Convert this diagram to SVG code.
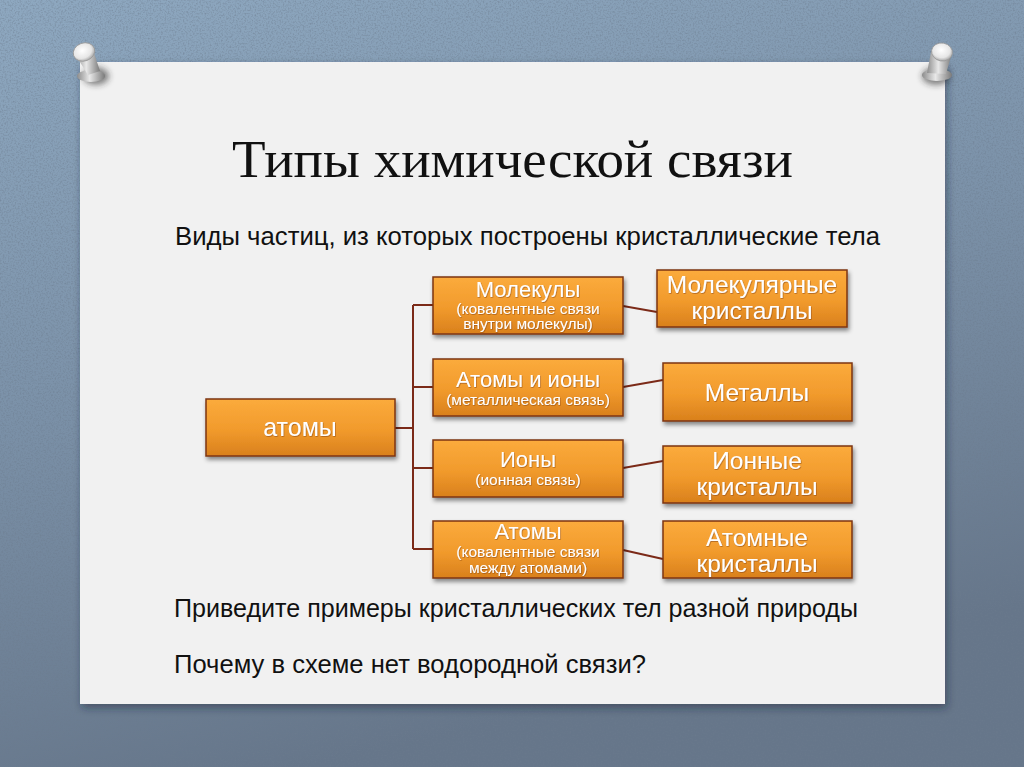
<svg xmlns="http://www.w3.org/2000/svg" width="1024" height="767" viewBox="0 0 1024 767">
  <defs>
    <linearGradient id="bg" x1="0" y1="0" x2="0.3" y2="1">
      <stop offset="0" stop-color="#8ea8c0"/>
      <stop offset="0.5" stop-color="#7b91a8"/>
      <stop offset="1" stop-color="#66768a"/>
    </linearGradient>
    <filter id="grain" x="0" y="0" width="100%" height="100%">
      <feTurbulence type="fractalNoise" baseFrequency="0.6" numOctaves="2" seed="3" result="n"/>
      <feColorMatrix in="n" type="matrix" values="0 0 0 0 0.15  0 0 0 0 0.2  0 0 0 0 0.27  0 0 0 -2.4 1.35" result="d"/>
      <feComposite in="d" in2="SourceGraphic" operator="in"/>
    </filter>
    <linearGradient id="box" x1="0" y1="0" x2="0" y2="1">
      <stop offset="0" stop-color="#fbab3c"/>
      <stop offset="0.55" stop-color="#f19a2c"/>
      <stop offset="1" stop-color="#d9801c"/>
    </linearGradient>
    <filter id="sh" x="-10%" y="-20%" width="125%" height="150%">
      <feDropShadow dx="1.5" dy="3" stdDeviation="2" flood-color="#000" flood-opacity="0.45"/>
    </filter>
    <filter id="papersh" x="-5%" y="-5%" width="110%" height="112%">
      <feDropShadow dx="2" dy="4" stdDeviation="4" flood-color="#1c2630" flood-opacity="0.45"/>
    </filter>
    <filter id="pinsh" x="-100%" y="-100%" width="300%" height="300%">
      <feGaussianBlur stdDeviation="3"/>
    </filter>
    <filter id="tsh" x="-5%" y="-20%" width="110%" height="140%">
      <feDropShadow dx="0.6" dy="0.8" stdDeviation="0.5" flood-color="#7a3a08" flood-opacity="0.6"/>
    </filter>
    <linearGradient id="pinbody" x1="0" y1="0" x2="1" y2="0">
      <stop offset="0" stop-color="#8c8c8c"/>
      <stop offset="0.45" stop-color="#e8e8e8"/>
      <stop offset="1" stop-color="#7a7a7a"/>
    </linearGradient>
    <radialGradient id="pinhead" cx="0.45" cy="0.4" r="0.6">
      <stop offset="0" stop-color="#ffffff"/>
      <stop offset="0.7" stop-color="#e6e6e6"/>
      <stop offset="1" stop-color="#a9a9a9"/>
    </radialGradient>
    <style>
      .node rect { fill: url(#box); stroke: #7e3410; stroke-width: 1.5; filter: url(#sh); }
      .node text { fill: #ffffff; font-family: "Liberation Sans", Arial, sans-serif; text-anchor: middle; filter: url(#tsh); }
      .big { font-size: 22px; }
      .small { font-size: 15.5px; }
      .rt { font-size: 24.5px; }
      .conn { fill: none; stroke: #7b2a18; stroke-width: 2; }
      .body { font-family: "Liberation Sans Narrow", "Liberation Sans", Arial, sans-serif; font-size: 25px; fill: #111; }
    </style>
  </defs>

  <!-- background -->
  <rect x="0" y="0" width="1024" height="767" fill="url(#bg)"/>
  <rect x="0" y="0" width="1024" height="767" fill="#000" filter="url(#grain)" opacity="0.5"/>

  <!-- paper -->
  <rect x="80" y="62" width="865" height="642" fill="#f1f1f1" filter="url(#papersh)"/>

  <!-- pins -->
  <g id="pin-left">
    <ellipse cx="96" cy="76" rx="13" ry="9" fill="#222" opacity="0.55" filter="url(#pinsh)"/>
    <ellipse cx="91" cy="76" rx="14" ry="6" fill="url(#pinbody)"/>
    <path d="M75 54 L88 75 L100 71 L93 50 Z" fill="url(#pinbody)"/>
    <ellipse cx="84" cy="52" rx="11" ry="9" transform="rotate(-20 84 52)" fill="url(#pinhead)" stroke="#9a9a9a" stroke-width="0.8"/>
  </g>
  <g id="pin-right">
    <ellipse cx="936" cy="76" rx="14" ry="9" fill="#222" opacity="0.55" filter="url(#pinsh)"/>
    <ellipse cx="937" cy="75" rx="15" ry="6" fill="url(#pinbody)"/>
    <path d="M931 52 L927 73 L946 74 L952 53 Z" fill="url(#pinbody)"/>
    <ellipse cx="942" cy="52" rx="10.5" ry="9" transform="rotate(10 942 52)" fill="url(#pinhead)" stroke="#9a9a9a" stroke-width="0.8"/>
  </g>

  <!-- texts -->
  <text id="title" x="232" y="177" font-family="'Liberation Serif', 'Times New Roman', serif" font-size="53" fill="#111" textLength="561" lengthAdjust="spacingAndGlyphs">Типы химической связи</text>
  <text class="body" x="175" y="245" textLength="705" lengthAdjust="spacingAndGlyphs">Виды частиц, из которых построены кристаллические тела</text>
  <text class="body" x="174" y="617" textLength="684" lengthAdjust="spacingAndGlyphs">Приведите примеры кристаллических тел разной природы</text>
  <text class="body" x="174" y="673" textLength="472" lengthAdjust="spacingAndGlyphs">Почему в схеме нет водородной связи?</text>

  <!-- connectors -->
  <g id="connectors">
    <path class="conn" d="M395 428 H413"/>
    <path class="conn" d="M413 305 V549"/>
    <path class="conn" d="M413 305 H433"/>
    <path class="conn" d="M413 387 H433"/>
    <path class="conn" d="M413 468 H433"/>
    <path class="conn" d="M413 549 H433"/>
    <path class="conn" d="M623 306 L657 312"/>
    <path class="conn" d="M623 387 L663 380"/>
    <path class="conn" d="M623 468 L663 461"/>
    <path class="conn" d="M623 550 L663 559"/>
  </g>

  <!-- nodes -->
  <g id="atoms" class="node">
    <rect x="206" y="399" width="189" height="57"/>
    <text x="300" y="436" font-size="25">атомы</text>
  </g>

  <g id="molecules" class="node">
    <rect x="433" y="277" width="190" height="57"/>
    <text class="big" x="528" y="297">Молекулы</text>
    <text class="small" x="528" y="314">(ковалентные связи</text>
    <text class="small" x="528" y="329">внутри молекулы)</text>
  </g>
  <g id="atoms-ions" class="node">
    <rect x="433" y="359" width="190" height="57"/>
    <text class="big" x="528" y="387">Атомы и ионы</text>
    <text class="small" x="528" y="405">(металлическая связь)</text>
  </g>
  <g id="ions" class="node">
    <rect x="433" y="440" width="190" height="57"/>
    <text class="big" x="528" y="467">Ионы</text>
    <text class="small" x="528" y="485">(ионная связь)</text>
  </g>
  <g id="atoms2" class="node">
    <rect x="433" y="521" width="190" height="57"/>
    <text class="big" x="528" y="539">Атомы</text>
    <text class="small" x="528" y="557">(ковалентные связи</text>
    <text class="small" x="528" y="573">между атомами)</text>
  </g>

  <g id="mol-crystals" class="node">
    <rect x="657" y="270" width="190" height="57"/>
    <text class="rt" x="752" y="293">Молекулярные</text>
    <text class="rt" x="752" y="319">кристаллы</text>
  </g>
  <g id="metals" class="node">
    <rect x="663" y="363" width="189" height="58"/>
    <text class="rt" x="757" y="401">Металлы</text>
  </g>
  <g id="ion-crystals" class="node">
    <rect x="663" y="446" width="189" height="57"/>
    <text class="rt" x="757" y="469">Ионные</text>
    <text class="rt" x="757" y="495">кристаллы</text>
  </g>
  <g id="atom-crystals" class="node">
    <rect x="663" y="521" width="189" height="57"/>
    <text class="rt" x="757" y="546">Атомные</text>
    <text class="rt" x="757" y="572">кристаллы</text>
  </g>
</svg>
